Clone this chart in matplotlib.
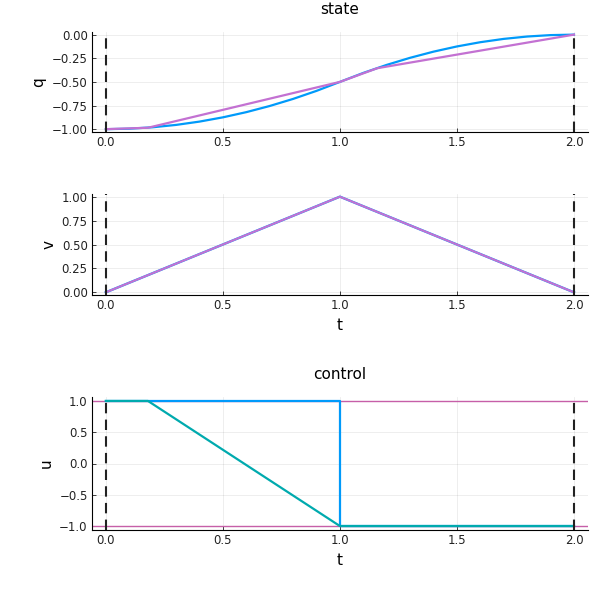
import matplotlib
matplotlib.use("Agg")
import matplotlib.pyplot as plt

# ---- data ----
t_fine = [0.0, 0.1, 0.2, 0.3, 0.4, 0.5, 0.6, 0.7, 0.8, 0.9, 1.0,
          1.1, 1.2, 1.3, 1.4, 1.5, 1.6, 1.7, 1.8, 1.9, 2.0]
q_exact = [-1.0, -0.995, -0.98, -0.955, -0.92, -0.875, -0.82, -0.755, -0.68, -0.595, -0.5,
           -0.405, -0.32, -0.245, -0.18, -0.125, -0.08, -0.045, -0.02, -0.005, 0.0]
t_approx = [0.0, 0.18, 1.0, 1.16, 2.0]
q_approx = [-1.0, -0.985, -0.5, -0.355, 0.0]

t_v = [0.0, 1.0, 2.0]
v_exact = [0.0, 1.0, 0.0]
v_approx = [0.0, 1.0, 0.0]

t_u_exact = [0.0, 1.0, 1.0, 2.0]
u_exact = [1.0, 1.0, -1.0, -1.0]
t_u_approx = [0.0, 0.18, 1.0, 2.0]
u_approx = [1.0, 1.0, -1.0, -1.0]
u_bounds = [-1.0, 1.0]
t_bounds = [0.0, 2.0]

blue = "#009AFA"
purple = "#C371D2"
teal = "#00AAAE"
magenta = "#C65FA8"

plt.rcParams['font.family'] = ['DejaVu Sans']
fig = plt.figure(figsize=(6, 6), dpi=100)

L, R = 0.153, 0.98
ax1 = fig.add_axes([L, 0.780, R - L, 0.947 - 0.780])
ax2 = fig.add_axes([L, 0.508, R - L, 0.677 - 0.508])
ax3 = fig.add_axes([L, 0.117, R - L, 0.338 - 0.117])

def style(ax):
    for s in ("top", "right"):
        ax.spines[s].set_visible(False)
    ax.spines["left"].set_color("black")
    ax.spines["bottom"].set_color("black")
    ax.grid(True, color="#000000", alpha=0.08, linewidth=0.6)
    ax.set_axisbelow(True)
    ax.tick_params(direction="in", length=3, width=0.6, labelsize=8.5, colors="#222222", pad=3)
    ax.set_xlim(-0.06, 2.06)
    ax.set_xticks([0.0, 0.5, 1.0, 1.5, 2.0])
    ax.set_xticklabels(["0.0", "0.5", "1.0", "1.5", "2.0"])
    for tb in t_bounds:
        ax.axvline(tb, color="#222222", linestyle=(0, (5, 3)), linewidth=1.5, zorder=5)

# state q
style(ax1)
ax1.plot(t_fine, q_exact, color=blue, linewidth=1.6)
ax1.plot(t_approx, q_approx, color=purple, linewidth=1.6)
ax1.set_ylim(-1.03, 0.03)
ax1.set_yticks([-1.0, -0.75, -0.5, -0.25, 0.0])
ax1.set_yticklabels(["\u22121.00", "\u22120.75", "\u22120.50", "\u22120.25", "0.00"])
ax1.set_ylabel("q", fontsize=11)
ax1.set_title("state", fontsize=11, pad=13)

# v
style(ax2)
ax2.plot(t_v, v_exact, color=blue, linewidth=1.7)
ax2.plot(t_v, v_approx, color=purple, linewidth=1.5)
ax2.set_ylim(-0.03, 1.03)
ax2.set_yticks([0.0, 0.25, 0.5, 0.75, 1.0])
ax2.set_yticklabels(["0.00", "0.25", "0.50", "0.75", "1.00"])
ax2.set_ylabel("v", fontsize=11)
ax2.set_xlabel("t", fontsize=11)

# control
style(ax3)
for ub in u_bounds:
    ax3.axhline(ub, color=magenta, linewidth=1.0, zorder=1)
ax3.plot(t_u_exact, u_exact, color=blue, linewidth=1.6, zorder=2)
ax3.plot(t_u_approx, u_approx, color=teal, linewidth=1.6, zorder=3)
ax3.set_ylim(-1.06, 1.06)
ax3.set_yticks([-1.0, -0.5, 0.0, 0.5, 1.0])
ax3.set_yticklabels(["\u22121.0", "\u22120.5", "0.0", "0.5", "1.0"])
ax3.set_ylabel("u", fontsize=11)
ax3.set_xlabel("t", fontsize=11)
ax3.set_title("control", fontsize=11, pad=13)

fig.savefig("out.png", dpi=100)
